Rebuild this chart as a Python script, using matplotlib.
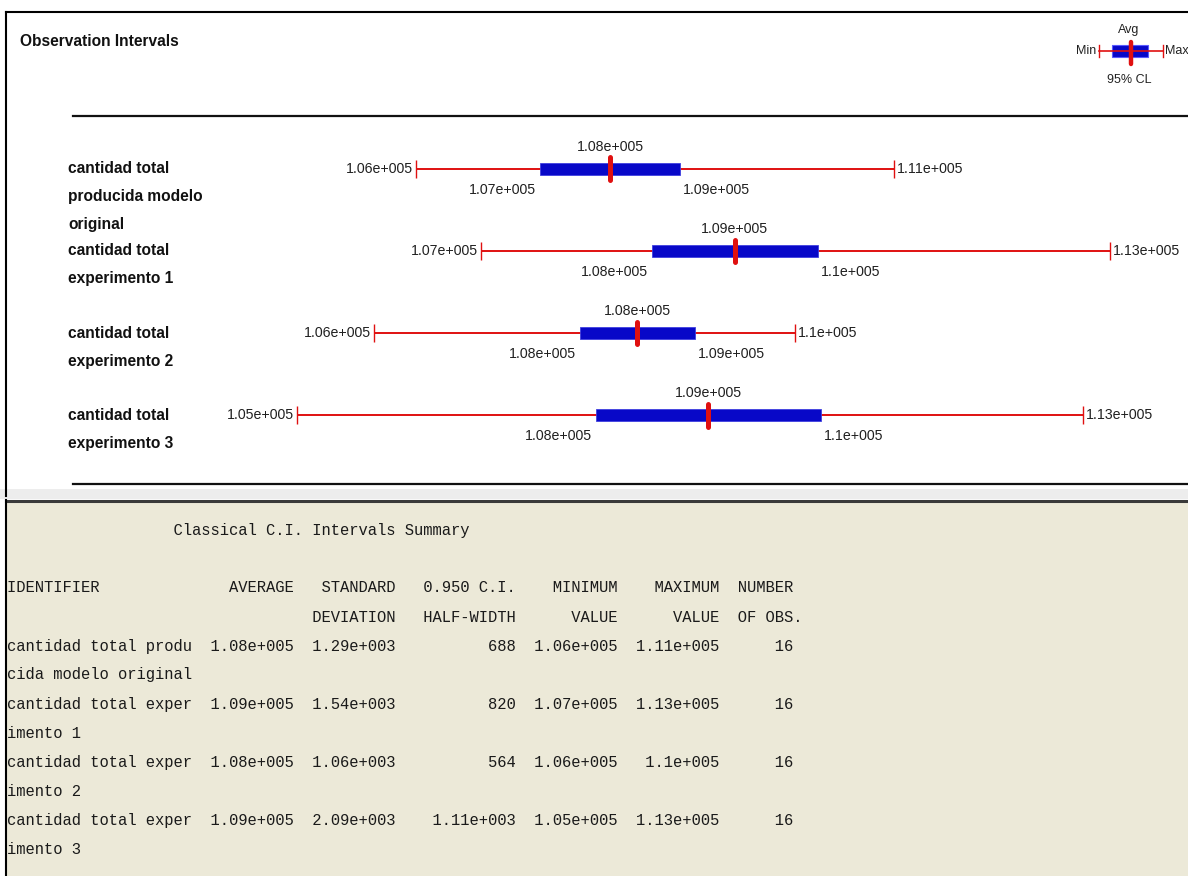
import textwrap
import matplotlib
matplotlib.use("Agg")
import matplotlib.pyplot as plt
from matplotlib import transforms
from matplotlib.patches import Rectangle

# Output Analyzer summary: one interval per response
series = [
    "cantidad total producida modelo original",
    "cantidad total experimento 1",
    "cantidad total experimento 2",
    "cantidad total experimento 3",
]
avg = [107900, 109130, 108170, 108870]
std_dev = [1290, 1540, 1060, 2090]
half_width = [688, 820, 564, 1110]
v_min = [105990, 106630, 105570, 104820]
v_max = [110700, 112830, 109720, 112560]
n_obs = [16, 16, 16, 16]

RED = "#e01010"
BLUE = "#0808c8"
BEIGE = "#ece9d8"
SANS = ["Liberation Sans", "DejaVu Sans"]
MONO = ["Liberation Mono", "DejaVu Sans Mono"]
PX = 0.72  # points per pixel at 100 dpi


def fmt(v):
    # %.3g with a three digit exponent, e.g. 1.08e+005
    s = f"{v:.3g}"
    if "e" in s:
        mant, exp = s.split("e")
        s = f"{mant}e{exp[0]}{int(exp[1:]):03d}"
    return s


W, H = 1188, 876
fig = plt.figure(figsize=(W / 100, H / 100), dpi=100)

# background layer in pixel units: window frames and the text report
bg = fig.add_axes([0, 0, 1, 1])
bg.set_xlim(0, W)
bg.set_ylim(H, 0)
bg.axis("off")

bg.plot([6, W], [12, 12], color="black", lw=1.5)
bg.plot([6, 6], [12, 496], color="black", lw=1.5)
bg.add_patch(Rectangle((0, 489), W, 10, facecolor="#ededed", edgecolor="none"))
bg.add_patch(Rectangle((6, 500), W, H - 500, facecolor=BEIGE, edgecolor="none"))
bg.plot([6, W], [500.5, 500.5], color="#3a3a3a", lw=2.2)
bg.plot([6, 6], [500, H], color="black", lw=1.5)

bg.text(20, 42, "Observation Intervals", family=SANS, fontweight="bold",
        fontsize=11.2, ha="left", va="center", color="#111111")

# legend key, top right
bg.plot([1099, 1163], [51, 51], color=RED, lw=1.2)
for x in (1099, 1163):
    bg.plot([x, x], [45, 57], color=RED, lw=1.0)
bg.add_patch(Rectangle((1112, 45), 36, 12, facecolor=BLUE, edgecolor="#5a5aff", lw=0.8))
bg.plot([1131, 1131], [42, 64], color=RED, lw=3.2, solid_capstyle="round")
kw = dict(family=SANS, fontsize=9, color="#222222", va="center")
bg.text(1129, 30, "Avg", ha="center", **kw)
bg.text(1096, 51, "Min", ha="right", **kw)
bg.text(1165, 51, "Max", ha="left", **kw)
bg.text(1129, 80, "95% CL", ha="center", **kw)

# interval chart
ax = fig.add_axes([73 / W, 1 - 484 / H, 1 - 73 / W, (484 - 116) / H])
ax.set_xlim(102609, 113595)
ax.set_ylim(3.841, -0.646)
ax.patch.set_alpha(0)
for side in ("left", "right"):
    ax.spines[side].set_visible(False)
for side in ("top", "bottom"):
    ax.spines[side].set_linewidth(1.6)
    ax.spines[side].set_color("#111111")
ax.set_xticks([])
ax.set_yticks([])

rows = list(range(len(series)))
lo = [a - h for a, h in zip(avg, half_width)]
hi = [a + h for a, h in zip(avg, half_width)]

ax.hlines(rows, v_min, v_max, color=RED, lw=1.4, zorder=2)
ax.vlines(v_min, [r - 0.11 for r in rows], [r + 0.11 for r in rows], color=RED, lw=1.0, zorder=2)
ax.vlines(v_max, [r - 0.11 for r in rows], [r + 0.11 for r in rows], color=RED, lw=1.0, zorder=2)
ax.barh(rows, [b - a for a, b in zip(lo, hi)], left=lo, height=0.135,
        color=BLUE, edgecolor="#4040e0", lw=0.6, zorder=3)
for r, a in zip(rows, avg):
    ax.plot([a, a], [r - 0.14, r + 0.14], color=RED, lw=3.6,
            solid_capstyle="round", zorder=4)

tkw = dict(textcoords="offset points", family=SANS, fontsize=10.2,
           color="#202020", va="center", annotation_clip=False)
for r in rows:
    ax.annotate(fmt(avg[r]), (avg[r], r), xytext=(0, 22 * PX), ha="center", **tkw)
    ax.annotate(fmt(lo[r]), (lo[r], r), xytext=(-4 * PX, -21 * PX), ha="right", **tkw)
    ax.annotate(fmt(hi[r]), (hi[r], r), xytext=(3 * PX, -21 * PX), ha="left", **tkw)
    ax.annotate(fmt(v_min[r]), (v_min[r], r), xytext=(-3 * PX, 0), ha="right", **tkw)
    ax.annotate(fmt(v_max[r]), (v_max[r], r), xytext=(3 * PX, 0), ha="left", **tkw)

# series names on the left, wrapped like the chart window does
lab_tr = transforms.blended_transform_factory(fig.transFigure, ax.transData)
for r, name in enumerate(series):
    for k, line in enumerate(textwrap.wrap(name, 16)):
        ax.annotate(line, (68 / W, r), xycoords=lab_tr, xytext=(0, -28 * k * PX),
                    textcoords="offset points", family=SANS, fontweight="bold",
                    fontsize=11.2, color="#111111", ha="left", va="center",
                    annotation_clip=False)

# fixed width text report
lines = [" " * 18 + "Classical C.I. Intervals Summary", ""]
lines.append("IDENTIFIER".ljust(20) + "AVERAGE".rjust(11) + "STANDARD".rjust(11)
             + "0.950 C.I.".rjust(13) + "MINIMUM".rjust(11) + "MAXIMUM".rjust(11)
             + "  NUMBER")
lines.append(" " * 31 + "DEVIATION".rjust(11) + "HALF-WIDTH".rjust(13)
             + "VALUE".rjust(11) + "VALUE".rjust(11) + "  OF OBS.")
for r, name in enumerate(series):
    lines.append(name[:20].ljust(20) + fmt(avg[r]).rjust(11) + fmt(std_dev[r]).rjust(11)
                 + fmt(half_width[r]).rjust(13) + fmt(v_min[r]).rjust(11)
                 + fmt(v_max[r]).rjust(11) + str(n_obs[r]).rjust(8))
    lines.append(name[20:])

for k, line in enumerate(lines):
    bg.text(7, 530 + 29 * k, line, family=MONO, fontsize=11.2, color="#1a1a1a",
            ha="left", va="center")

fig.savefig("out.png", dpi=100)
